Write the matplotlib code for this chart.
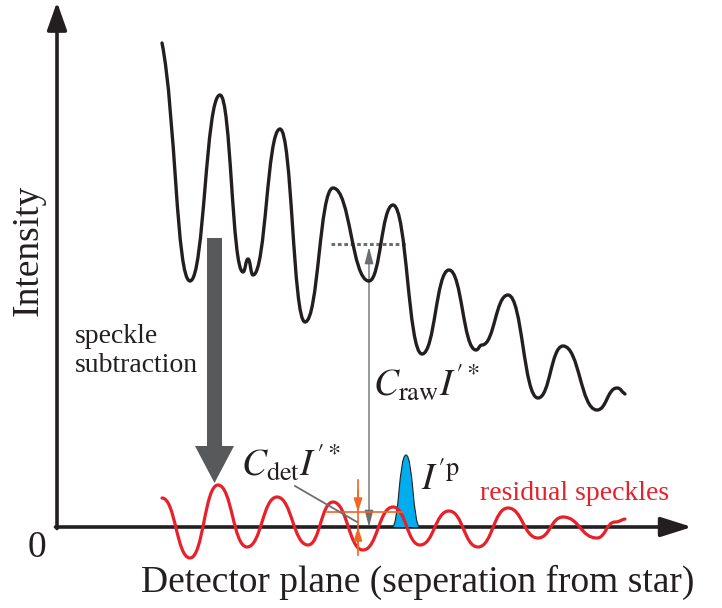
import matplotlib
matplotlib.use('Agg')
import matplotlib.pyplot as plt
from matplotlib.path import Path
from matplotlib.patches import PathPatch, FancyArrow

# schematic drawn in picture units (x right, y down)
# raw speckle pattern (extrema of the black curve)
raw_x = [162, 190, 220, 243, 248, 253, 280, 305, 333, 369, 393, 422, 449, 476, 482, 508, 538, 563, 597, 617, 625]
raw_y = [43, 281, 95, 272, 259, 275, 129, 322, 188, 281, 205, 354, 270, 350, 345, 295, 398, 346, 410, 388, 394]
raw_slope = [5.0] + [0] * 19 + [0.7]

# residual speckles after subtraction (red curve)
res_x = [162, 190, 218, 247, 277, 308, 333, 363, 393, 420, 449, 478, 508, 538, 563, 597, 615, 625]
res_y = [498, 558, 485, 547, 497, 545, 502, 550, 507, 545, 511, 547, 508, 538, 517, 538, 522, 519]
res_slope = [0] * 17 + [-0.2]

# planet signal (left foot, top, right foot)
planet_x = [392, 406, 420]
planet_y = [527, 455, 527]

zero_y = 527       # intensity zero line
axis_x = 57
raw_level = 244    # dotted reference level of raw speckle
det_level = 512    # residual level

BLACK = '#231f20'
RED = '#e8202a'
GREY = '#6d6e71'
ORANGE = '#f26522'


def smooth_path(xs, ys, slopes, k=0.48):
    verts = [(xs[0], ys[0])]
    codes = [Path.MOVETO]
    for i in range(len(xs) - 1):
        dx = xs[i + 1] - xs[i]
        verts += [(xs[i] + k * dx, ys[i] + slopes[i] * k * dx),
                  (xs[i + 1] - k * dx, ys[i + 1] - slopes[i + 1] * k * dx),
                  (xs[i + 1], ys[i + 1])]
        codes += [Path.CURVE4] * 3
    return Path(verts, codes)


plt.rcParams['font.family'] = 'serif'
plt.rcParams['font.serif'] = ['Liberation Serif', 'DejaVu Serif']
plt.rcParams['mathtext.fontset'] = 'stix'

fig = plt.figure(figsize=(7.22, 6.08), dpi=100)
ax = fig.add_axes([0, 0, 1, 1])
ax.set_xlim(0, 722)
ax.set_ylim(608, 0)
ax.axis('off')

# axes with arrow heads
ax.annotate('', xy=(axis_x, 2), xytext=(axis_x, zero_y + 1.5),
            arrowprops=dict(arrowstyle='-|>,head_length=17,head_width=6', mutation_scale=1,
                            lw=2.6, color=BLACK, shrinkA=0, shrinkB=0))
ax.annotate('', xy=(692, zero_y), xytext=(axis_x - 1.5, zero_y),
            arrowprops=dict(arrowstyle='-|>,head_length=19,head_width=6', mutation_scale=1,
                            lw=2.6, color=BLACK, shrinkA=0, shrinkB=0))

# raw speckles
ax.add_patch(PathPatch(smooth_path(raw_x, raw_y, raw_slope), fill=False, lw=2.4,
                       edgecolor=BLACK, capstyle='round', joinstyle='round', zorder=3))

# planet
pl = smooth_path(planet_x, planet_y, [0, 0, 0], k=0.5)
ax.add_patch(PathPatch(pl, facecolor='#00aeef', edgecolor=BLACK, lw=0.8, zorder=4))

# residual speckles
ax.add_patch(PathPatch(smooth_path(res_x, res_y, res_slope), fill=False, lw=2.3,
                       edgecolor=RED, capstyle='round', joinstyle='round', zorder=5))

# speckle subtraction arrow
ax.add_patch(FancyArrow(214.5, 238, 0, 245, width=15, head_width=39, head_length=37,
                        length_includes_head=True, color='#58595b', lw=0, zorder=2))

# dotted level and C_raw arrow
ax.plot([331, 407], [raw_level, raw_level], color=GREY, lw=2.2, ls=(0, (1.2, 0.9)), zorder=2)
ax.annotate('', xy=(369, raw_level + 3), xytext=(369, zero_y),
            arrowprops=dict(arrowstyle='<|-|>,head_length=10,head_width=2.6', mutation_scale=1,
                            lw=1.0, color=GREY, shrinkA=0, shrinkB=0), zorder=2)

# C_det markers
ax.plot([327, 403], [det_level, det_level], color=ORANGE, lw=1.2, zorder=6)
ax.plot([358, 358], [480, 555], color=ORANGE, lw=1.2, zorder=6)
ax.annotate('', xy=(358, det_level), xytext=(358, 490),
            arrowprops=dict(arrowstyle='-|>,head_length=8,head_width=2.5', mutation_scale=1,
                            lw=1.2, color=ORANGE, shrinkA=0, shrinkB=0), zorder=6)
ax.annotate('', xy=(358, zero_y), xytext=(358, 548),
            arrowprops=dict(arrowstyle='-|>,head_length=8,head_width=2.5', mutation_scale=1,
                            lw=1.2, color=ORANGE, shrinkA=0, shrinkB=0), zorder=6)
ax.plot([295, 357], [486, 522], color=GREY, lw=1.3, zorder=6)

# labels
ax.text(37, 548, '0', fontsize=27, ha='center', va='center', color=BLACK)
ax.text(28, 250, 'Intensity', fontsize=27, rotation=90, ha='center', va='center', color=BLACK)
ax.text(418, 582, 'Detector plane (seperation from star)', fontsize=27,
        ha='center', va='center', color=BLACK)
ax.text(75, 343, 'speckle', fontsize=20, ha='left', va='baseline', color=BLACK)
ax.text(75, 372, 'subtraction', fontsize=20, ha='left', va='baseline', color=BLACK)
ax.text(480, 500, 'residual speckles', fontsize=20, ha='left', va='baseline', color=RED)
ax.text(373, 395, r'$C_{\mathrm{raw}}I^{\prime *}$', fontsize=27, ha='left', va='baseline', color=BLACK)
ax.text(241, 476, r'$C_{\mathrm{det}}I^{\prime *}$', fontsize=27, ha='left', va='baseline', color=BLACK)
ax.text(421, 490, r'$I^{\prime \mathrm{p}}$', fontsize=27, ha='left', va='baseline', color=BLACK)

fig.savefig('out.png', dpi=100)
